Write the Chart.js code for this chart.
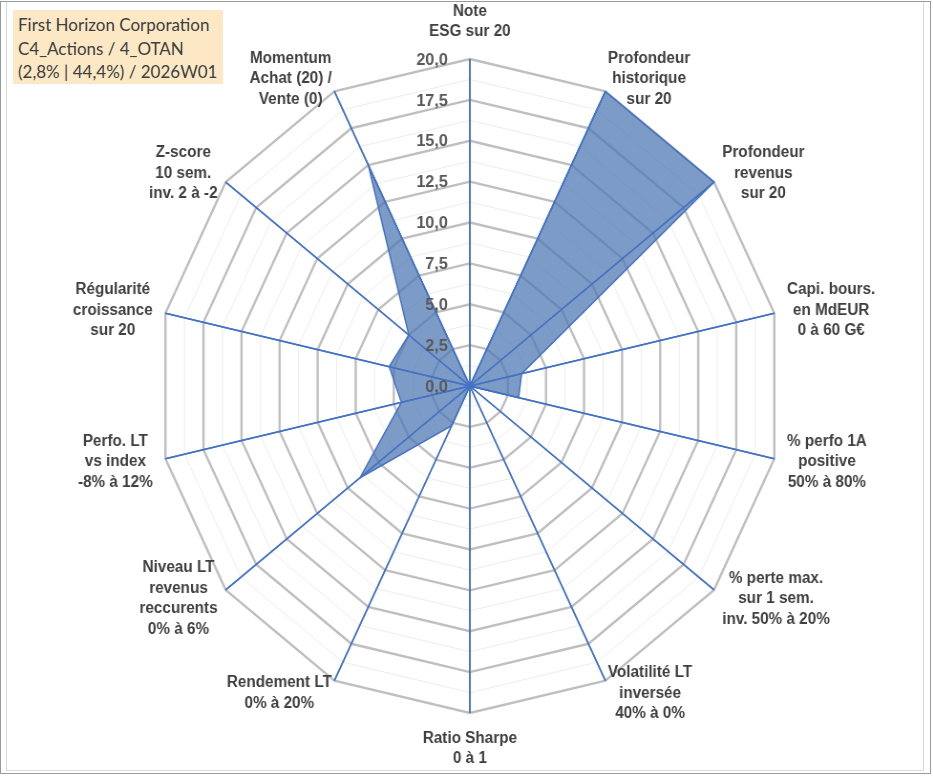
<!DOCTYPE html>
<html>
<head>
<meta charset="utf-8">
<script src="https://cdn.jsdelivr.net/npm/chart.js@4.4.1/dist/chart.umd.min.js"></script>
<style>
  html, body { margin: 0; padding: 0; background: #fff; overflow: hidden; }
  body { width: 933px; height: 776px; position: relative; }
  #frame { position: absolute; left: 0; top: 1px; width: 931px; height: 773px; border: 1px solid #9a9a9a; box-sizing: border-box; }
  #inner { position: absolute; left: 6px; top: 2px; width: 918px; height: 769px; border: 1px solid #dadada; border-top: none; box-sizing: border-box; }
  #wrap { position: absolute; left: 0; top: 0; width: 977px; height: 776px; transform: scaleX(0.955); transform-origin: 0 0; }
  #title { position: absolute; left: 13px; top: 10px; width: 210px; height: 74px; background: #fce8c4;
           font-family: Lato, "Open Sans", sans-serif; font-size: 17px; color: #404040; line-height: 23.5px;
           padding: 3px 0 0 5px; box-sizing: border-box; white-space: nowrap; }
</style>
</head>
<body>
<div id="frame"></div>
<div id="inner"></div>
<div id="wrap"><canvas id="chart"></canvas></div>
<div id="title">First Horizon Corporation<br>C4_Actions / 4_OTAN<br>(2,8% | 44,4%) / 2026W01</div>
<script>
const axisLabels = [
    ["Note", "ESG sur 20"],
    ["Profondeur", "historique", "sur 20"],
    ["Profondeur", "revenus", "sur 20"],
    ["Capi. bours.", "en MdEUR", "0 à 60 G€"],
    ["% perfo 1A", "positive", "50% à 80%"],
    ["% perte max.", "sur 1 sem.", "inv. 50% à 20%"],
    ["Volatilité LT", "inversée", "40% à 0%"],
    ["Ratio Sharpe", "0 à 1"],
    ["Rendement LT", "0% à 20%"],
    ["Niveau LT", "revenus", "reccurents", "0% à 6%"],
    ["Perfo. LT", "vs index", "-8% à 12%"],
    ["Régularité", "croissance", "sur 20"],
    ["Z-score", "10 sem.", "inv. 2 à -2"],
    ["Momentum", "Achat (20) /", "Vente (0)"]
];

const scores = [0, 20, 20, 3.4, 3.2, 0, 0, 0, 2.7, 9.0, 4.5, 5.3, 5.0, 15];

const tickValues = [0, 2.5, 5, 7.5, 10, 12.5, 15, 17.5, 20];

const blue = "#4472C4";

// tick numbers sit left of the top axis, with a comma decimal
function drawTicks(chart) {
    const scale = chart.scales.r;
    const ctx = chart.ctx;
    ctx.save();
    ctx.font = "bold 17px 'Liberation Sans', Arial, sans-serif";
    ctx.fillStyle = "#595959";
    ctx.textAlign = "right";
    ctx.textBaseline = "middle";
    tickValues.forEach(v => {
        const y = scale.yCenter - scale.getDistanceFromCenterForValue(v) + 1;
        ctx.fillText(v.toFixed(1).replace(".", ","), scale.xCenter - 23, y);
    });
    ctx.restore();
}

// axis names, placed the way Excel does it (block beside the vertex)
function drawAxisNames(chart) {
    const scale = chart.scales.r;
    const ctx = chart.ctx;
    const n = axisLabels.length;
    const lineH = 20.5;
    ctx.save();
    ctx.font = "bold 16px 'Liberation Sans', Arial, sans-serif";
    ctx.fillStyle = "#404040";
    ctx.textAlign = "center";
    ctx.textBaseline = "middle";
    axisLabels.forEach((lines, i) => {
        const a = i * 2 * Math.PI / n;
        const sin = Math.sin(a), cos = Math.cos(a);
        const p = scale.getPointPosition(i, scale.drawingArea);
        const w = Math.max(...lines.map(l => ctx.measureText(l).width));
        const h = lines.length * lineH;
        let cx, cy;
        if (Math.abs(sin) < 0.01) {
            cx = p.x;
            cy = cos > 0 ? p.y - 17 - h / 2 : p.y + 15 + h / 2;
        } else {
            const ax = p.x + 14 * sin * Math.abs(sin);
            cx = sin > 0 ? ax + w / 2 : ax - w / 2;
            cy = p.y - 14 * cos;
        }
        lines.forEach((l, k) => {
            ctx.fillText(l, cx, cy - h / 2 + lineH * (k + 0.5));
        });
    });
    ctx.restore();
}

const excelLook = {
    id: "excelLook",
    afterDatasetsDraw(chart) {
        const scale = chart.scales.r;
        const ctx = chart.ctx;
        // axis spokes again on top of the filled area
        ctx.save();
        ctx.strokeStyle = blue;
        ctx.lineWidth = 1.5;
        for (let i = 0; i < axisLabels.length; i++) {
            const p = scale.getPointPosition(i, scale.drawingArea);
            ctx.beginPath();
            ctx.moveTo(scale.xCenter, scale.yCenter);
            ctx.lineTo(p.x, p.y);
            ctx.stroke();
        }
        ctx.restore();
        drawTicks(chart);
        drawAxisNames(chart);
    }
};

new Chart(document.getElementById("chart"), {
    type: "radar",
    data: {
        labels: axisLabels,
        datasets: [{
            data: scores,
            backgroundColor: "rgba(79,120,180,0.74)",
            borderColor: blue,
            borderWidth: 1.5,
            pointRadius: 0,
            fill: true
        }]
    },
    options: {
        responsive: true,
        maintainAspectRatio: false,
        animation: false,
        layout: { padding: { left: 8, right: 0, top: 59, bottom: 63 } },
        plugins: { legend: { display: false }, tooltip: { enabled: false } },
        scales: {
            r: {
                min: 0,
                max: 20,
                ticks: { display: false, stepSize: 1.25 },
                pointLabels: { display: false },
                grid: {
                    color: c => (c.tick && c.tick.value % 2.5 === 0) ? "#bfbfbf" : "#ececec",
                    lineWidth: c => (c.tick && c.tick.value % 2.5 === 0) ? 2.4 : 1
                },
                angleLines: { color: blue, lineWidth: 1.5 }
            }
        }
    },
    plugins: [excelLook]
});
</script>
</body>
</html>
